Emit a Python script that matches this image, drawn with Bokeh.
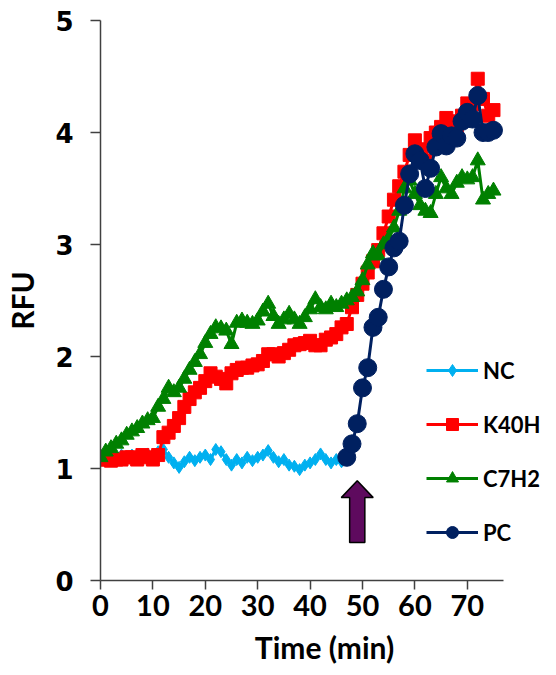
from bokeh.plotting import figure
from bokeh.models import FixedTicker, Legend, LegendItem
from bokeh.embed import file_html
from bokeh.resources import INLINE

# ---------------- data ----------------
t_nc = list(range(0, 48))
nc = [1.10, 1.10, 1.12, 1.10, 1.12, 1.10, 1.12, 1.10, 1.12, 1.13,
      1.12, 1.15, 1.17, 1.10, 1.05, 1.01, 1.06, 1.10, 1.07, 1.10,
      1.12, 1.08, 1.17, 1.15, 1.08, 1.03, 1.08, 1.05, 1.10, 1.07,
      1.10, 1.12, 1.16, 1.10, 1.06, 1.08, 1.03, 1.02, 0.99, 1.03,
      1.05, 1.08, 1.13, 1.08, 1.05, 1.08, 1.06, 1.10]

t_k40h = list(range(0, 76))
k40h = [1.08, 1.08, 1.07, 1.08, 1.08, 1.10, 1.10, 1.08, 1.12, 1.10,
        1.08, 1.12, 1.28, 1.32, 1.38, 1.45, 1.55, 1.62, 1.68, 1.72,
        1.78, 1.85, 1.82, 1.80, 1.76, 1.85, 1.88, 1.90, 1.90, 1.92,
        1.93, 1.96, 2.02, 2.02, 2.00, 2.03, 2.06, 2.10, 2.11, 2.12,
        2.14, 2.10, 2.10, 2.15, 2.17, 2.20, 2.26, 2.29, 2.44, 2.55,
        2.65, 2.75, 2.85, 2.95, 3.10, 3.25, 3.40, 3.52, 3.65, 3.80,
        3.93, 3.85, 3.75, 3.95, 4.00, 4.05, 4.13, 4.10, 4.05, 4.15,
        4.26, 4.25, 4.48, 4.30, 4.15, 4.20]

t_c7h2 = list(range(0, 76))
c7h2 = [1.10, 1.15, 1.18, 1.22, 1.25, 1.30, 1.33, 1.36, 1.40, 1.43,
        1.45, 1.55, 1.62, 1.72, 1.68, 1.72, 1.80, 1.88, 1.95, 2.02,
        2.12, 2.20, 2.26, 2.25, 2.23, 2.11, 2.30, 2.32, 2.30, 2.29,
        2.32, 2.40, 2.47, 2.36, 2.29, 2.33, 2.38, 2.33, 2.29, 2.35,
        2.42, 2.51, 2.44, 2.42, 2.47, 2.44, 2.47, 2.50, 2.53, 2.58,
        2.68, 2.82, 2.92, 2.90, 3.00, 3.05, 3.15, 3.30, 3.50, 3.57,
        3.45, 3.35, 3.30, 3.28, 3.45, 3.60, 3.50, 3.45, 3.55, 3.60,
        3.58, 3.60, 3.75, 3.40, 3.45, 3.48]

t_pc = list(range(47, 76))
pc = [1.10, 1.22, 1.40, 1.72, 1.90, 2.26, 2.35, 2.60, 2.80, 2.97,
      3.03, 3.35, 3.63, 3.81, 3.75, 3.50, 3.68, 3.87, 3.99, 3.88,
      3.97, 3.95, 4.10, 4.18, 4.12, 4.33, 4.00, 4.00, 4.02]

x_ticks = [0, 10, 20, 30, 40, 50, 60, 70]
y_ticks = [0, 1, 2, 3, 4, 5]

# arrow annotation (data units)
arrow_t = 49.0
arrow_bottom, arrow_head_base, arrow_tip = 0.34, 0.74, 0.89
shaft_half, head_half = 1.45, 3.05

# ---------------- figure ----------------
p = figure(width=548, height=667, output_backend="svg", toolbar_location=None,
           x_range=(0, 85.5), y_range=(0, 5),
           min_border_left=100, min_border_right=0, min_border_top=20,
           min_border_bottom=87)
p.outline_line_color = None
p.grid.visible = False
p.background_fill_color = "white"
p.border_fill_color = "white"

NAVY = "#002060"
colors = {"NC": "#00B0F0", "K40H": "#FF0000", "C7H2": "#008000", "PC": NAVY}

r_nc_l = p.line(t_nc, nc, line_color=colors["NC"], line_width=3)
r_nc_m = p.scatter(t_nc, nc, marker="diamond", size=12, color=colors["NC"])
r_k_l = p.line(t_k40h, k40h, line_color=colors["K40H"], line_width=3)
r_k_m = p.scatter(t_k40h, k40h, marker="square", size=13, color=colors["K40H"])
r_c_l = p.line(t_c7h2, c7h2, line_color=colors["C7H2"], line_width=3)
r_c_m = p.scatter(t_c7h2, c7h2, marker="triangle", size=15, color=colors["C7H2"])
r_p_l = p.line(t_pc, pc, line_color=NAVY, line_width=3)
r_p_m = p.scatter(t_pc, pc, marker="circle", size=18, color=NAVY)

# arrow
ax = [arrow_t - shaft_half, arrow_t + shaft_half, arrow_t + shaft_half,
      arrow_t + head_half, arrow_t, arrow_t - head_half, arrow_t - shaft_half]
ay = [arrow_bottom, arrow_bottom, arrow_head_base, arrow_head_base,
      arrow_tip, arrow_head_base, arrow_head_base]
p.patch(ax, ay, fill_color="#5E0A5E", line_color="black", line_width=1.5)

# axes
for axis in (p.xaxis[0], p.yaxis[0]):
    axis.axis_line_color = "#404040"
    axis.axis_line_width = 1.5
    axis.major_tick_line_color = "#404040"
    axis.major_tick_line_width = 1.5
    axis.major_tick_in = 0
    axis.minor_tick_line_color = None
    axis.major_label_text_color = "black"
    axis.major_label_text_font_style = "bold"
    axis.axis_label_text_font = "Lato"
    axis.axis_label_text_font_style = "bold"
    axis.axis_label_text_font_size = "30px"
    axis.axis_label_text_color = "black"

p.xaxis.ticker = FixedTicker(ticks=x_ticks)
p.xaxis.bounds = (0, 76.9)
p.xaxis.major_tick_out = 9
p.xaxis.major_label_text_font = "Lato"
p.xaxis.major_label_text_font_size = "29px"
p.xaxis.major_label_standoff = 5
p.xaxis.axis_label = "Time (min)"
p.xaxis.axis_label_standoff = 10

p.yaxis.ticker = FixedTicker(ticks=y_ticks)
p.yaxis.major_tick_out = 10
p.yaxis.major_label_text_font = "DejaVu Sans"
p.yaxis.major_label_text_font_size = "26px"
p.yaxis.major_label_standoff = 17
p.yaxis.axis_label = "RFU"
p.yaxis.axis_label_standoff = 12

legend = Legend(items=[
    LegendItem(label="NC", renderers=[r_nc_l, r_nc_m]),
    LegendItem(label="K40H", renderers=[r_k_l, r_k_m]),
    LegendItem(label="C7H2", renderers=[r_c_l, r_c_m]),
    LegendItem(label="PC", renderers=[r_p_l, r_p_m]),
], location=(326, 33))
legend.background_fill_alpha = 0
legend.border_line_color = None
legend.padding = 0
legend.margin = 0
legend.glyph_width = 52
legend.glyph_height = 30
legend.label_height = 30
legend.spacing = 24
legend.label_standoff = 5
legend.label_text_font = "Lato"
legend.label_text_font_style = "bold"
legend.label_text_font_size = "22px"
legend.label_text_color = "black"
p.add_layout(legend, "center")

open("out.html", "w").write(file_html(p, INLINE))
